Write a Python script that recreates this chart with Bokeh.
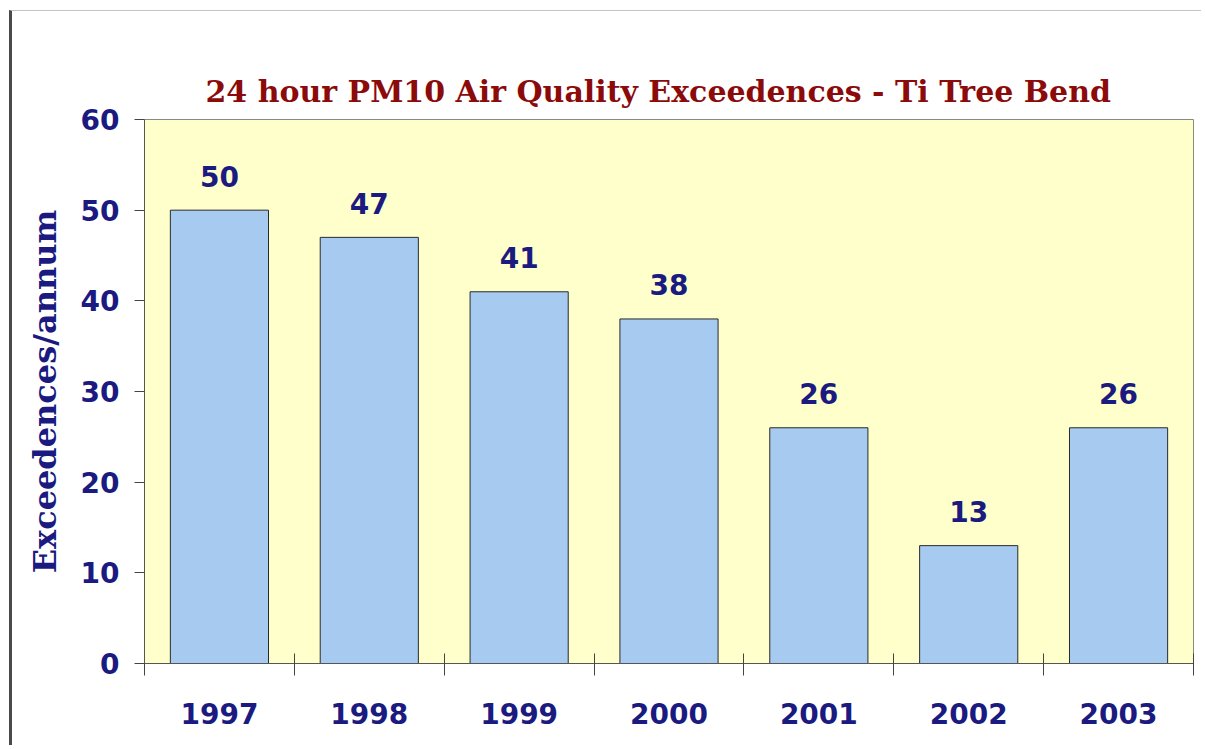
from bokeh.plotting import figure
from bokeh.models import ColumnDataSource, FixedTicker, Range1d
from bokeh.core.properties import value
from bokeh.embed import file_html
from bokeh.resources import INLINE

years = ["1997", "1998", "1999", "2000", "2001", "2002", "2003"]
exceedences = [50, 47, 41, 38, 26, 13, 26]
y_ticks = [0, 10, 20, 30, 40, 50, 60]

centers = [i + 0.5 for i in range(len(years))]
boundaries = list(range(len(years) + 1))

src = ColumnDataSource(dict(x=centers, top=exceedences, label=[str(v) for v in exceedences]))

NAVY = "#1a1a80"
p = figure(width=1192, height=735, output_backend="svg", toolbar_location=None,
           x_range=Range1d(0, len(years)), y_range=Range1d(0, 60),
           min_border_left=132, min_border_right=11, min_border_top=108, min_border_bottom=83,
           title="24 hour PM10 Air Quality Exceedences - Ti Tree Bend")
p.styles = {"border-left": "3px solid #4a4a4a", "border-top": "1px solid #c4c4c4",
            "margin-left": "9px", "margin-top": "10px"}

p.title.align = "left"
p.title.text_font = "DejaVu Serif"
p.title.text_font_style = "bold"
p.title.text_font_size = "30px"
p.title.text_color = "#8b0a0a"
p.title.standoff = 22
p.title.offset = 61

p.background_fill_color = "#ffffcc"
p.border_fill_color = "white"
p.outline_line_color = "#8a8a80"
p.grid.visible = False

p.vbar(x="x", top="top", width=0.655, source=src, fill_color="#a6caf0",
       line_color="#2a2a2a", line_width=1)
p.text(x="x", y="top", text="label", source=src, y_offset=-34,
       text_align="center", text_baseline="alphabetic",
       text_font=value("DejaVu Sans"), text_font_style="bold",
       text_font_size="28px", text_color=NAVY)

# x axis
p.xaxis.ticker = FixedTicker(ticks=centers, minor_ticks=boundaries)
p.xaxis.major_label_overrides = {c: y for c, y in zip(centers, years)}
p.xaxis.major_tick_line_color = None
p.xaxis.minor_tick_in = 10
p.xaxis.minor_tick_out = 12
p.xaxis.minor_tick_line_color = "#444444"
p.xaxis.axis_line_color = "#555555"
p.xaxis.major_label_standoff = 27
p.xaxis.major_label_text_font = "DejaVu Sans"
p.xaxis.major_label_text_font_style = "bold"
p.xaxis.major_label_text_font_size = "28px"
p.xaxis.major_label_text_color = NAVY

# y axis
p.yaxis.ticker = FixedTicker(ticks=y_ticks, minor_ticks=[])
p.yaxis.major_tick_in = 0
p.yaxis.major_tick_out = 10
p.yaxis.major_tick_line_color = "#444444"
p.yaxis.axis_line_color = "#555555"
p.yaxis.major_label_standoff = 15
p.yaxis.major_label_text_font = "DejaVu Sans"
p.yaxis.major_label_text_font_style = "bold"
p.yaxis.major_label_text_font_size = "28px"
p.yaxis.major_label_text_color = NAVY
p.yaxis.axis_label = "Exceedences/annum"
p.yaxis.axis_label_text_font = "DejaVu Serif"
p.yaxis.axis_label_text_font_style = "bold"
p.yaxis.axis_label_text_font_size = "32px"
p.yaxis.axis_label_text_color = NAVY
p.yaxis.axis_label_standoff = 14

open("out.html", "w").write(file_html(p, INLINE))
